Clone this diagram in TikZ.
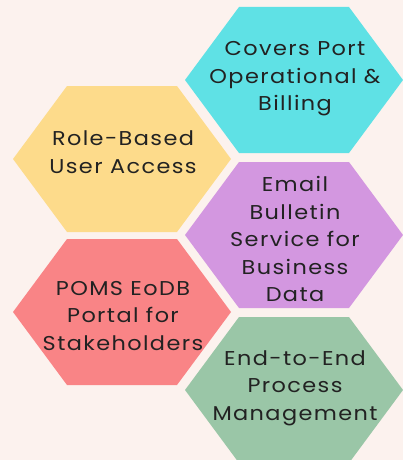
\documentclass[tikz,border=0pt]{standalone}
\usepackage{fontspec}
\setmainfont{Poppins}[LetterSpace=7,FakeStretch=1.12]
\definecolor{bgc}{HTML}{FCF2EE}
\definecolor{hcyan}{HTML}{5FE1E5}
\definecolor{hyellow}{HTML}{FDDB8B}
\definecolor{hpurple}{HTML}{D397E0}
\definecolor{hred}{HTML}{F98486}
\definecolor{hgreen}{HTML}{9AC6A7}
\definecolor{txt}{HTML}{222222}
\tikzset{
  pics/hexa/.style={code={\fill[#1] (-109,0) -- (-55,-73) -- (55,-73) -- (109,0) -- (55,73) -- (-55,73) -- cycle;}},
  lbl/.style={align=center, text=txt, inner sep=0pt, font=\fontsize{20pt}{27.5pt}\selectfont}
}
\begin{document}
\begin{tikzpicture}[x=1pt,y=-1pt]
\useasboundingbox (0,0) rectangle (403,460);
\clip (0,0) rectangle (403,460);
\fill[bgc] (0,0) rectangle (403,460);
\pic at (294,80) {hexa=hcyan};
\pic at (122,159) {hexa=hyellow};
\pic at (294,235) {hexa=hpurple};
\pic at (122,312) {hexa=hred};
\pic at (294,390) {hexa=hgreen};
\node[lbl] (t1) at (295,79) {Covers Port\\Operational \&\\Billing};
\node[lbl] (t2) at (123,152) {Role-Based\\User Access};
\node[lbl] (t3) at (295,239) {Email\\Bulletin\\Service for\\Business\\Data};
\node[lbl] (t4) at (123,316) {POMS EoDB\\Portal for\\Stakeholders};
\node[lbl] (t5) at (295,388) {End-to-End\\Process\\Management};
\end{tikzpicture}
\end{document}
